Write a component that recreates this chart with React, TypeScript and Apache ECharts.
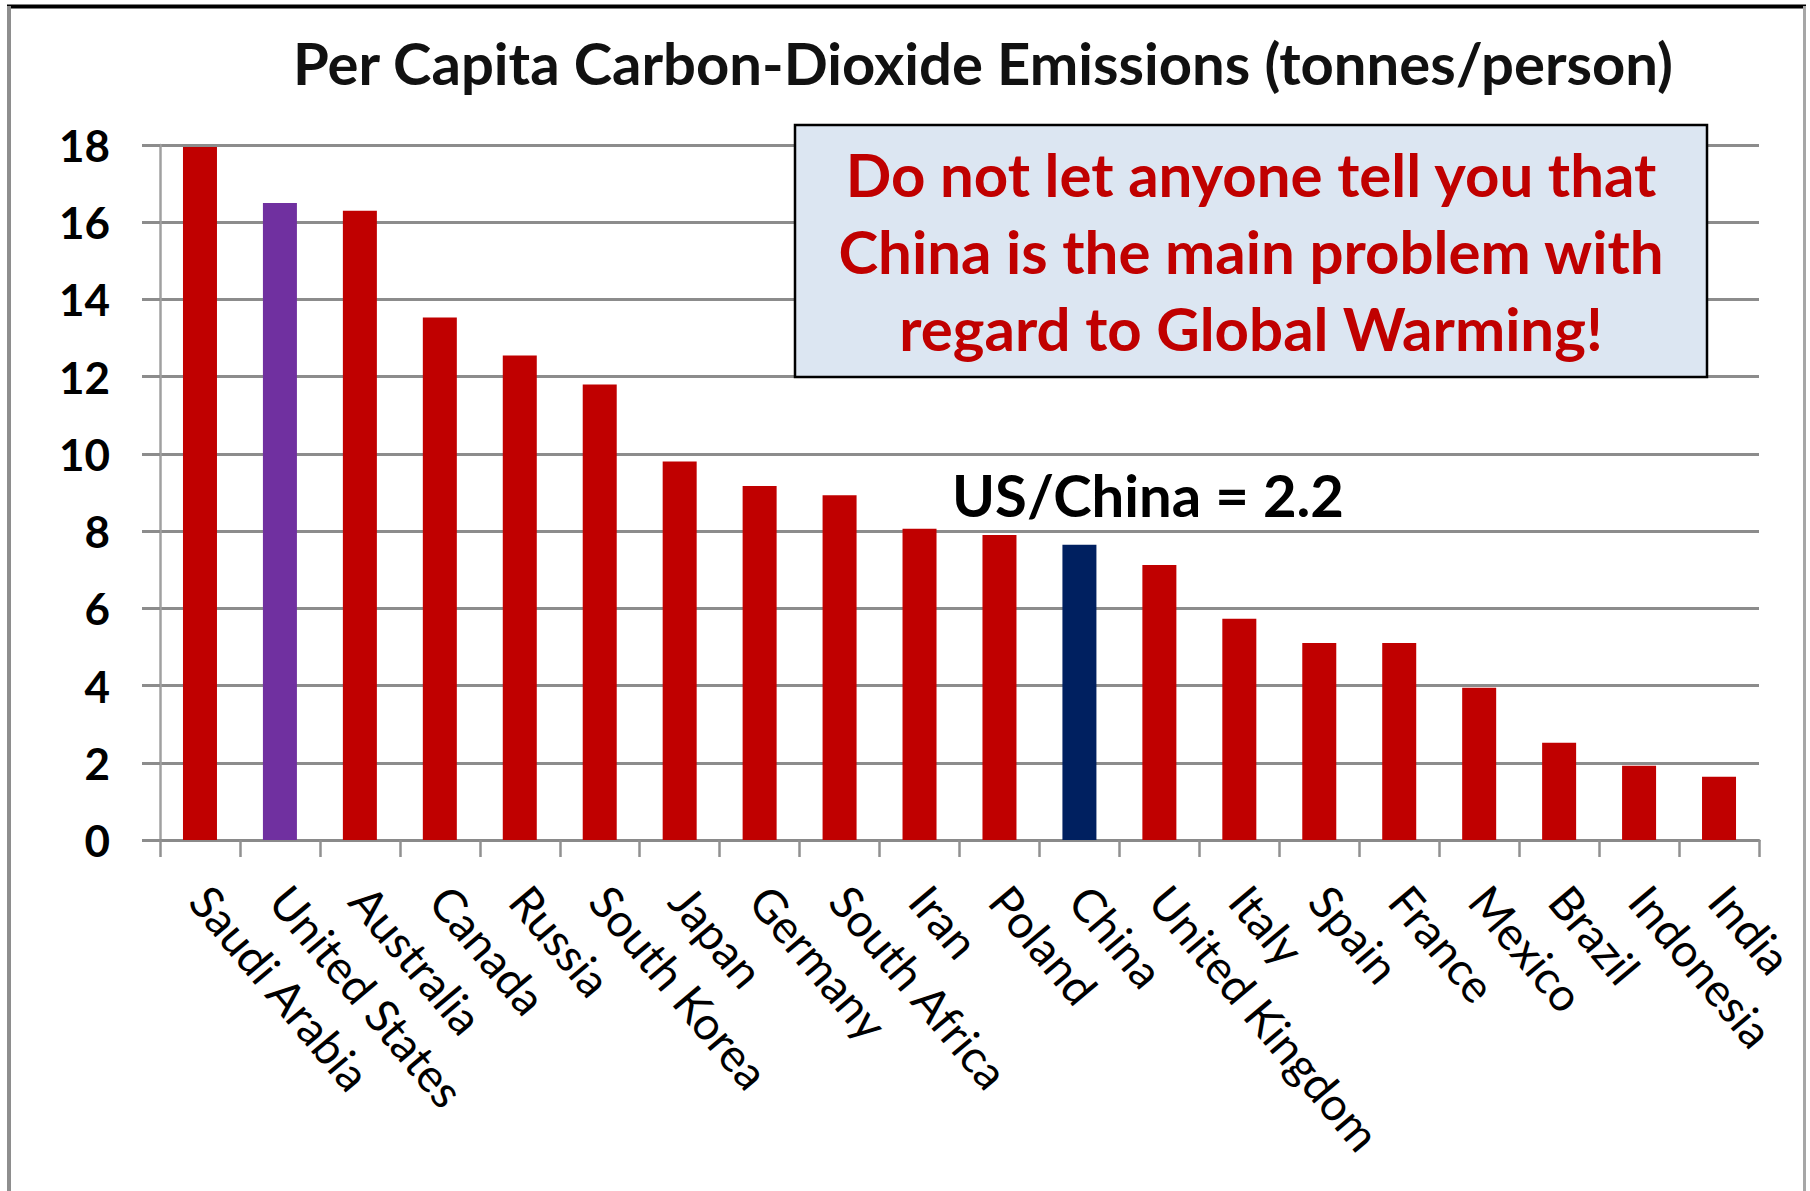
import React, { useEffect, useRef } from "react";
import * as echarts from "echarts";

const categories = [
  "Saudi Arabia",
  "United States",
  "Australia",
  "Canada",
  "Russia",
  "South Korea",
  "Japan",
  "Germany",
  "South Africa",
  "Iran",
  "Poland",
  "China",
  "United Kingdom",
  "Italy",
  "Spain",
  "France",
  "Mexico",
  "Brazil",
  "Indonesia",
  "India",
];

const values = [
  17.95, 16.5, 16.3, 13.53, 12.55, 11.8, 9.8, 9.17, 8.93, 8.06, 7.9, 7.65, 7.12,
  5.73, 5.1, 5.1, 3.94, 2.52, 1.92, 1.64,
];

const highlightNames = ["United States", "China"];
const highlightColors = ["#7030A0", "#002060"];
const defaultColor = "#C00000";

const yMin = 0;
const yMax = 18;
const yInterval = 2;

const titleText = "Per Capita Carbon-Dioxide Emissions (tonnes/person)";
const boxText =
  "Do not let anyone tell you that\nChina is the main problem with\nregard to Global Warming!";
const ratioText = "US/China = 2.2";

const FONT = "Lato, 'Open Sans', 'Noto Sans', sans-serif";

export default function App() {
  const ref = useRef<HTMLDivElement>(null);

  useEffect(() => {
    if (!ref.current) return;
    const chart = echarts.init(ref.current, undefined, { renderer: "svg" });

    const data = values.map((v, i) => {
      const hi = highlightNames.indexOf(categories[i]);
      return {
        value: v,
        itemStyle: { color: hi >= 0 ? highlightColors[hi] : defaultColor },
      };
    });

    const option: any = {
      animation: false,
      backgroundColor: "#ffffff",
      grid: { left: 160, right: 51, top: 145, bottom: 351, containLabel: false },
      xAxis: {
        type: "category",
        data: categories,
        boundaryGap: true,
        axisLine: { show: true, lineStyle: { color: "#8a8a8a", width: 3 } },
        axisTick: {
          show: true,
          alignWithLabel: false,
          length: 17,
          lineStyle: { color: "#909090", width: 2.5 },
        },
        axisLabel: {
          interval: 0,
          rotate: -50,
          margin: 52,
          color: "#000000",
          fontFamily: FONT,
          fontSize: 46,
        },
        splitLine: { show: false },
      },
      yAxis: {
        type: "value",
        min: yMin,
        max: yMax,
        interval: yInterval,
        axisLine: { show: true, lineStyle: { color: "#a0a0a0", width: 2.5 } },
        axisTick: {
          show: true,
          length: 18,
          lineStyle: { color: "#8c8c8c", width: 3 },
        },
        axisLabel: {
          margin: 50,
          color: "#000000",
          fontFamily: FONT,
          fontWeight: "bold",
          fontSize: 44,
        },
        splitLine: { show: true, lineStyle: { color: "#8c8c8c", width: 3 } },
      },
      series: [
        {
          type: "bar",
          data,
          barWidth: 34,
          z: 2,
        },
      ],
      graphic: [
        {
          type: "line",
          z: 200,
          shape: { x1: 7, y1: 6.5, x2: 1806, y2: 6.5 },
          style: { stroke: "#000000", lineWidth: 4 },
        },
        {
          type: "line",
          z: 200,
          shape: { x1: 9, y1: 6, x2: 9, y2: 1191 },
          style: { stroke: "#8e8e8e", lineWidth: 4 },
        },
        {
          type: "line",
          z: 200,
          shape: { x1: 1804.5, y1: 6, x2: 1804.5, y2: 1191 },
          style: { stroke: "#a6a6a6", lineWidth: 3 },
        },
        {
          type: "text",
          z: 200,
          x: 983,
          y: 62,
          style: {
            text: titleText,
            fill: "#111111",
            fontFamily: FONT,
            fontWeight: "bold",
            fontSize: 58,
            align: "center",
            textAlign: "center",
            verticalAlign: "middle",
            textVerticalAlign: "middle",
          },
        },
        {
          type: "rect",
          z: 200,
          shape: { x: 795, y: 125, width: 912, height: 252 },
          style: { fill: "#dce6f2", stroke: "#000000", lineWidth: 2.5 },
        },
        {
          type: "text",
          z: 201,
          x: 1251,
          y: 251,
          style: {
            text: boxText,
            fill: "#c00000",
            fontFamily: FONT,
            fontWeight: "bold",
            fontSize: 60,
            lineHeight: 77,
            align: "center",
            textAlign: "center",
            verticalAlign: "middle",
            textVerticalAlign: "middle",
          },
        },
        {
          type: "text",
          z: 201,
          x: 1148,
          y: 494,
          style: {
            text: ratioText,
            fill: "#000000",
            fontFamily: FONT,
            fontWeight: "bold",
            fontSize: 58,
            align: "center",
            textAlign: "center",
            verticalAlign: "middle",
            textVerticalAlign: "middle",
          },
        },
      ],
    };

    chart.setOption(option);
    return () => {
      chart.dispose();
    };
  }, []);

  return (
    <div
      ref={ref}
      style={{
        position: "fixed",
        left: 0,
        top: 0,
        width: 1810,
        height: 1191,
        background: "#ffffff",
      }}
    />
  );
}
